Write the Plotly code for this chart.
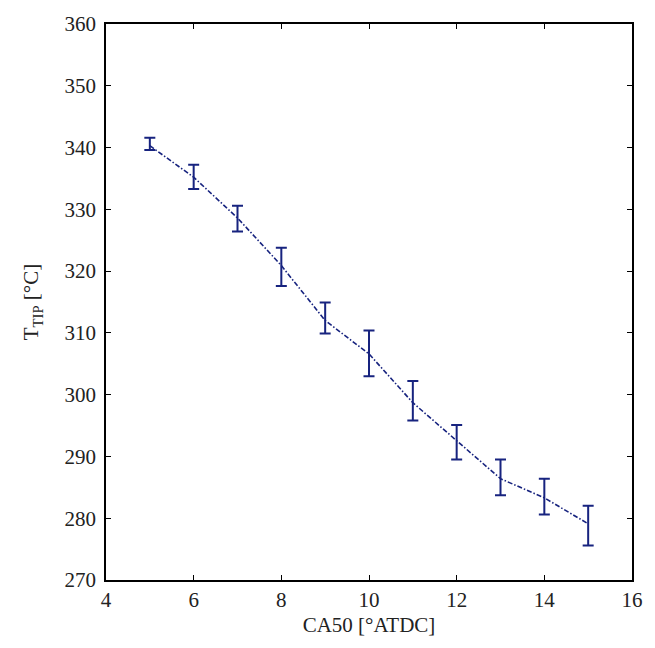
import plotly.graph_objects as go

# Tip temperature against combustion phasing
ca50 = [5, 6, 7, 8, 9, 10, 11, 12, 13, 14, 15]
t_tip = [340.3, 335.2, 328.6, 320.9, 312.0, 306.6, 298.7, 292.5, 286.4, 283.3, 279.1]
err_up = [1.3, 2.0, 2.0, 2.9, 2.9, 3.8, 3.5, 2.6, 3.1, 3.1, 2.9]
err_down = [0.7, 1.9, 2.2, 3.3, 2.1, 3.6, 2.9, 3.0, 2.7, 2.7, 3.5]

x_ticks = [4, 6, 8, 10, 12, 14, 16]
y_ticks = [270, 280, 290, 300, 310, 320, 330, 340, 350, 360]

navy = "#17237f"
serif = "Times New Roman, Liberation Serif, serif"

fig = go.Figure(
    go.Scatter(
        x=ca50,
        y=t_tip,
        mode="lines",
        line=dict(color=navy, width=1.6, dash="5px,2px,1.5px,2px"),
        error_y=dict(
            type="data",
            symmetric=False,
            array=err_up,
            arrayminus=err_down,
            color=navy,
            thickness=2,
            width=5.5,
        ),
        showlegend=False,
    )
)

axis_common = dict(
    showgrid=False,
    zeroline=False,
    showline=True,
    linecolor="black",
    linewidth=1.5,
    mirror="ticks",
    ticks="inside",
    ticklen=5,
    tickwidth=1,
    tickcolor="black",
    tickfont=dict(family=serif, size=21, color="#222"),
)

fig.update_layout(
    width=655,
    height=648,
    margin=dict(l=106, r=12, t=23, b=68),
    paper_bgcolor="white",
    plot_bgcolor="white",
    font=dict(family=serif, size=21, color="#222"),
)

fig.update_xaxes(
    range=[4, 16],
    tickvals=x_ticks,
    ticktext=[str(v) for v in x_ticks],
    title=dict(text="CA50 [°ATDC]", font=dict(family=serif, size=21, color="#222"), standoff=6),
    **axis_common,
)
fig.update_yaxes(
    range=[270, 360],
    tickvals=y_ticks,
    ticktext=[str(v) for v in y_ticks],
    ticklabelstandoff=4,
    title=dict(text="T<sub>TIP</sub> [°C]", font=dict(family=serif, size=21, color="#222"), standoff=20),
    **axis_common,
)

fig.write_html("out.html")
